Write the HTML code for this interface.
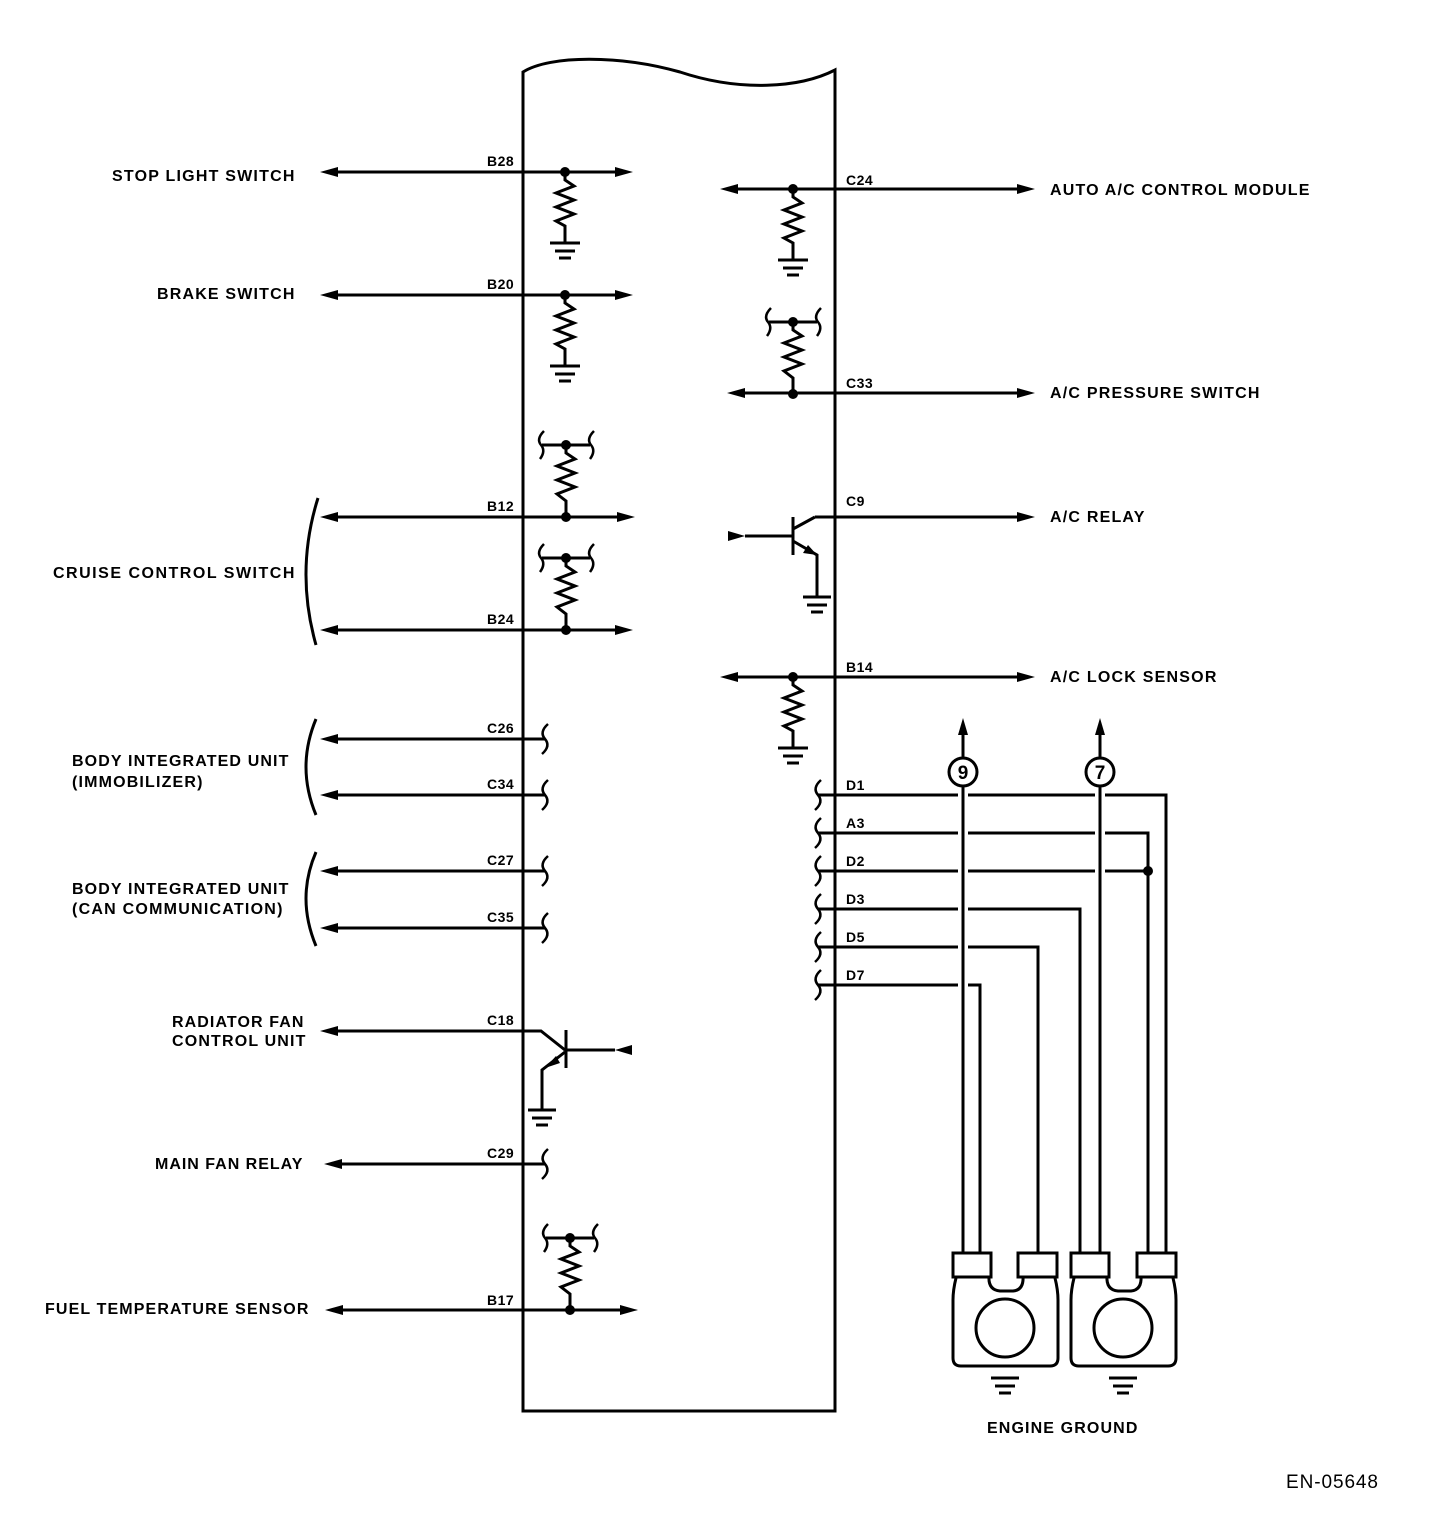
<!DOCTYPE html>
<html><head><meta charset="utf-8"><style>
html,body{margin:0;padding:0;background:#fff}
svg{display:block}
text{font-family:"Liberation Sans",Arial,sans-serif;font-weight:bold;font-size:16px;fill:#000;letter-spacing:0.6px}
.s{font-size:14px;letter-spacing:0.5px}
</style></head><body>
<svg width="1440" height="1522" viewBox="0 0 1440 1522" xmlns="http://www.w3.org/2000/svg">
<defs>
<path id="ar" d="M0,0 L-18,-5 L-18,5 Z"/>
<path id="al" d="M0,0 L18,-5 L18,5 Z"/>
<g id="resG" fill="none" stroke="#000" stroke-width="3">
<path d="M0,0 V8 L9,14 L-9,21 L9,28 L-9,35 L9,42 L-9,49 L0,54 V71"/>
<path d="M-15,71 H15 M-10,79 H10 M-6,86 H6"/>
<circle cx="0" cy="0" r="5" fill="#000" stroke="none"/>
</g>
<g id="resU" fill="none" stroke="#000" stroke-width="3">
<path d="M0,0 V8 L9,14 L-9,21 L9,28 L-9,35 L9,42 L-9,49 L0,56 V72"/>
<path d="M-24,0 H24"/>
<path d="M-22,-14 Q-30,-6 -25,0 Q-20,6 -26,14" stroke-width="2.5"/>
<path d="M28,-14 Q20,-6 25,0 Q30,6 24,14" stroke-width="2.5"/>
<circle cx="0" cy="0" r="5" fill="#000" stroke="none"/>
<circle cx="0" cy="72" r="5" fill="#000" stroke="none"/>
</g>
<path id="sq" d="M3,-15 Q-6,-7 0,0 Q6,7 -3,15" fill="none" stroke="#000" stroke-width="2.5"/>
<path id="gnd" d="M-14,0 H14 M-10,8 H10 M-6,15 H6" fill="none" stroke="#000" stroke-width="3"/>
</defs>

<path d="M523,1411 V72 C550,55 620,55 680,72 C740,92 800,88 835,70 V1411 Z" fill="none" stroke="#000" stroke-width="3"/>

<g stroke="#000" stroke-width="3" fill="none">
<path d="M330,172 H615"/>
<path d="M330,295 H615"/>
<path d="M330,517 H617"/>
<path d="M330,630 H615"/>
<path d="M335,739 H545"/>
<path d="M335,795 H545"/>
<path d="M335,871 H545"/>
<path d="M335,928 H545"/>
<path d="M335,1031 H541 L565,1050"/>
<path d="M340,1164 H545"/>
<path d="M340,1310 H620"/>
<path d="M735,189 H1018"/>
<path d="M742,393 H1018"/>
<path d="M815,517 H1018"/>
<path d="M735,677 H1018"/>
<path d="M318,498 Q295,571 316,645"/>
<path d="M316,719 Q296,767 316,815"/>
<path d="M316,852 Q296,898 316,946"/>
</g>
<use href="#al" x="320" y="172"/><use href="#ar" x="633" y="172"/>
<use href="#al" x="320" y="295"/><use href="#ar" x="633" y="295"/>
<use href="#al" x="320" y="517"/><use href="#ar" x="635" y="517"/>
<use href="#al" x="320" y="630"/><use href="#ar" x="633" y="630"/>
<use href="#al" x="320" y="739"/>
<use href="#al" x="320" y="795"/>
<use href="#al" x="320" y="871"/>
<use href="#al" x="320" y="928"/>
<use href="#al" x="320" y="1031"/>
<use href="#al" x="324" y="1164"/>
<use href="#al" x="325" y="1310"/><use href="#ar" x="638" y="1310"/>
<use href="#al" x="720" y="189"/><use href="#ar" x="1035" y="189"/>
<use href="#al" x="727" y="393"/><use href="#ar" x="1035" y="393"/>
<use href="#ar" x="1035" y="517"/>
<use href="#al" x="720" y="677"/><use href="#ar" x="1035" y="677"/>

<use href="#resG" x="565" y="172"/>
<use href="#resG" x="565" y="295"/>
<use href="#resU" x="566" y="445"/>
<use href="#resU" x="566" y="558"/>
<use href="#resU" x="570" y="1238"/>
<use href="#resG" x="793" y="189"/>
<use href="#resU" x="793" y="322"/>
<use href="#resG" x="793" y="677"/>

<use href="#sq" x="545" y="739"/>
<use href="#sq" x="545" y="795"/>
<use href="#sq" x="545" y="871"/>
<use href="#sq" x="545" y="928"/>
<use href="#sq" x="545" y="1164"/>

<g stroke="#000" stroke-width="3" fill="none">
<path d="M566,1030 V1068"/>
<path d="M566,1050 H615"/>
<path d="M565,1052 L542,1070 V1110"/>
</g>
<path d="M615,1050 L632,1045 L632,1055 Z"/>
<path d="M545,1068 L556,1056 L560,1063 Z"/>
<use href="#gnd" x="542" y="1110"/>

<g stroke="#000" stroke-width="3" fill="none">
<path d="M793,517 V555"/>
<path d="M793,529 L815,517"/>
<path d="M793,541 L817,555 V597"/>
<path d="M745,536 H793"/>
</g>
<path d="M745,536 L728,531 L728,541 Z"/>
<path d="M817,555 L803,553 L808,545 Z"/>
<use href="#gnd" x="817" y="597"/>

<g stroke="#000" stroke-width="3" fill="none">
<path d="M818,795 H958 M968,795 H1095 M1105,795 H1166 V1253"/>
<path d="M818,833 H958 M968,833 H1095 M1105,833 H1148 V1253"/>
<path d="M818,871 H958 M968,871 H1095 M1105,871 H1148"/>
<path d="M818,909 H958 M968,909 H1080 V1253"/>
<path d="M818,947 H958 M968,947 H1038 V1253"/>
<path d="M818,985 H958 M968,985 H980 V1253"/>
<path d="M963,735 V1253"/>
<path d="M1100,735 V1253"/>
<circle cx="963" cy="772" r="14" fill="#fff"/>
<circle cx="1100" cy="772" r="14" fill="#fff"/>
</g>
<circle cx="1148" cy="871" r="5"/>
<path d="M963,718 L958,735 L968,735 Z"/>
<path d="M1100,718 L1095,735 L1105,735 Z"/>
<text x="963" y="779" text-anchor="middle" style="font-size:19px;letter-spacing:0">9</text>
<text x="1100" y="779" text-anchor="middle" style="font-size:19px;letter-spacing:0">7</text>
<use href="#sq" x="818" y="795"/>
<use href="#sq" x="818" y="833"/>
<use href="#sq" x="818" y="871"/>
<use href="#sq" x="818" y="909"/>
<use href="#sq" x="818" y="947"/>
<use href="#sq" x="818" y="985"/>

<g stroke="#000" stroke-width="3" fill="#fff">
<path d="M956,1278 Q953,1290 953,1300 V1358 Q953,1366 961,1366 H1050 Q1058,1366 1058,1358 V1300 Q1058,1290 1055,1278"/>
<path d="M1074,1278 Q1071,1290 1071,1300 V1358 Q1071,1366 1079,1366 H1168 Q1176,1366 1176,1358 V1300 Q1176,1290 1173,1278"/>
<path d="M989,1276 Q988,1290 1000,1291 H1013 Q1024,1290 1023,1276" fill="none"/>
<path d="M1107,1276 Q1106,1290 1118,1291 H1131 Q1142,1290 1141,1276" fill="none"/>
<rect x="953" y="1253" width="38" height="24"/>
<rect x="1018" y="1253" width="39" height="24"/>
<rect x="1071" y="1253" width="38" height="24"/>
<rect x="1137" y="1253" width="39" height="24"/>
<circle cx="1005" cy="1328" r="29"/>
<circle cx="1123" cy="1328" r="29"/>
</g>
<use href="#gnd" x="1005" y="1378"/>
<use href="#gnd" x="1123" y="1378"/>

<text class="s" x="487" y="166">B28</text>
<text class="s" x="487" y="289">B20</text>
<text class="s" x="487" y="511">B12</text>
<text class="s" x="487" y="624">B24</text>
<text class="s" x="487" y="733">C26</text>
<text class="s" x="487" y="789">C34</text>
<text class="s" x="487" y="865">C27</text>
<text class="s" x="487" y="922">C35</text>
<text class="s" x="487" y="1025">C18</text>
<text class="s" x="487" y="1158">C29</text>
<text class="s" x="487" y="1305">B17</text>
<text class="s" x="846" y="185">C24</text>
<text class="s" x="846" y="388">C33</text>
<text class="s" x="846" y="506">C9</text>
<text class="s" x="846" y="672">B14</text>
<text class="s" x="846" y="790">D1</text>
<text class="s" x="846" y="828">A3</text>
<text class="s" x="846" y="866">D2</text>
<text class="s" x="846" y="904">D3</text>
<text class="s" x="846" y="942">D5</text>
<text class="s" x="846" y="980">D7</text>

<text x="295" y="181" text-anchor="end" textLength="183">STOP LIGHT SWITCH</text>
<text x="295" y="299" text-anchor="end" textLength="138">BRAKE SWITCH</text>
<text x="295" y="578" text-anchor="end" textLength="242">CRUISE CONTROL  SWITCH</text>
<text x="72" y="766" textLength="217">BODY INTEGRATED UNIT</text>
<text x="72" y="787" textLength="131">(IMMOBILIZER)</text>
<text x="72" y="894" textLength="217">BODY INTEGRATED UNIT</text>
<text x="72" y="914" textLength="211">(CAN COMMUNICATION)</text>
<text x="172" y="1027" textLength="132">RADIATOR FAN</text>
<text x="172" y="1046" textLength="134">CONTROL UNIT</text>
<text x="155" y="1169" textLength="148">MAIN FAN RELAY</text>
<text x="45" y="1314" textLength="264">FUEL TEMPERATURE SENSOR</text>

<text x="1050" y="195" textLength="260">AUTO A/C CONTROL MODULE</text>
<text x="1050" y="398" textLength="210">A/C PRESSURE SWITCH</text>
<text x="1050" y="522" textLength="95">A/C RELAY</text>
<text x="1050" y="682" textLength="167">A/C LOCK SENSOR</text>
<text x="987" y="1433" textLength="151">ENGINE GROUND</text>
<text x="1286" y="1488" style="font-weight:normal;font-size:19px;letter-spacing:0" textLength="92">EN-05648</text>
</svg>
</body></html>
